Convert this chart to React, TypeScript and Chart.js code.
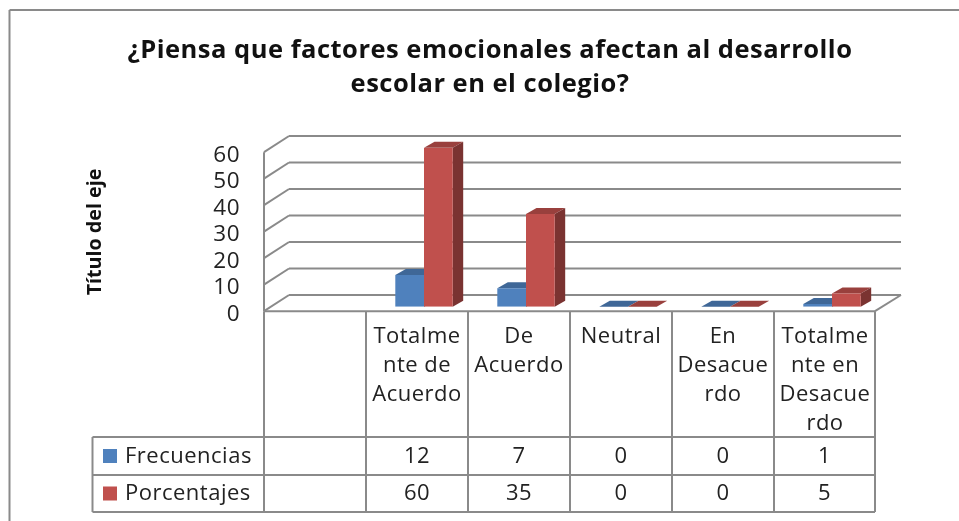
import { useEffect, useRef } from "react";
import { Chart, registerables } from "chart.js";

Chart.register(...registerables);

const categories = [
  [""],
  ["Totalme", "nte de", "Acuerdo"],
  ["De", "Acuerdo"],
  ["Neutral"],
  ["En", "Desacue", "rdo"],
  ["Totalme", "nte en", "Desacue", "rdo"],
];
const frecuencias = [null, 12, 7, 0, 0, 1];
const porcentajes = [null, 60, 35, 0, 0, 5];
const titleLines = ["¿Piensa que factores emocionales afectan al desarrollo", "escolar en el colegio?"];
const yTicks = { min: 0, max: 60, step: 10 };
const yAxisTitle = "Título del eje";
const seriesNames = ["Frecuencias", "Porcentajes"];
const seriesColors = ["#4F81BD", "#C0504D"];
const topColors = ["#3F6797", "#99403D"];
const sideColors = ["#355780", "#7A3331"];

const FONT = "'Open Sans', sans-serif";
const TEXT = "#222222";
const LINE = "#8A8A8A";

const geometry = {
  id: "geometry",
  beforeDraw(chart: any) {
    chart.ctx.letterSpacing = "0.5px";
  },
  beforeDatasetsDraw(chart: any) {
    const { ctx, chartArea, scales } = chart;
    const { left, right } = chartArea;
    const y = scales.y;
    const fx0 = left - 7;
    const fx1 = right - 8;
    const bx0 = left + 18;
    const bx1 = right + 18;
    ctx.save();
    ctx.strokeStyle = LINE;
    ctx.lineWidth = 2;
    const seg = (a: number, b: number, c: number, d: number) => {
      ctx.beginPath();
      ctx.moveTo(a, b);
      ctx.lineTo(c, d);
      ctx.stroke();
    };
    const y0 = y.getPixelForValue(0);
    // back wall gridlines and left wall diagonals
    y.ticks.forEach((t: any) => {
      const p = y.getPixelForValue(t.value);
      seg(bx0, p - 11.7, bx1, p - 11.7);
      seg(fx0, p + 4.5, bx0, p - 11.7);
    });
    // left wall front edge
    seg(fx0, y.getPixelForValue(yTicks.max) + 4.5, fx0, y0 + 4.5);
    // floor
    seg(fx1, y0 + 4.5, bx1, y0 - 11.7);

    // 3D tops and sides of the bars
    chart.data.datasets.forEach((ds: any, i: number) => {
      chart.getDatasetMeta(i).data.forEach((bar: any, j: number) => {
        if (ds.data[j] === null) return;
        const l = bar.x - bar.width / 2;
        const r = bar.x + bar.width / 2;
        const t = bar.y;
        const b = bar.base;
        const dx = 10.5;
        const dy = 6;
        ctx.fillStyle = topColors[i];
        ctx.beginPath();
        ctx.moveTo(l, t);
        ctx.lineTo(l + dx, t - dy);
        ctx.lineTo(r + dx, t - dy);
        ctx.lineTo(r, t);
        ctx.closePath();
        ctx.fill();
        if (b - t > 0.5) {
          ctx.fillStyle = sideColors[i];
          ctx.beginPath();
          ctx.moveTo(r, t);
          ctx.lineTo(r + dx, t - dy);
          ctx.lineTo(r + dx, b - dy);
          ctx.lineTo(r, b);
          ctx.closePath();
          ctx.fill();
        }
      });
    });
    ctx.restore();
  },
  afterDraw(chart: any) {
    const { ctx, chartArea, scales } = chart;
    const x = scales.x;
    const y = scales.y;
    const y0 = y.getPixelForValue(0) + 4.5;
    const cols = categories.map((_, i) => x.getPixelForValue(i) - 7 - x.width / 6 / 2);
    cols.push(chartArea.right - 8);
    const rows = [437, 475, 512];
    const tableLeft = 92.5;
    ctx.save();
    ctx.strokeStyle = LINE;
    ctx.lineWidth = 2;
    const seg = (a: number, b: number, c: number, d: number) => {
      ctx.beginPath();
      ctx.moveTo(a, b);
      ctx.lineTo(c, d);
      ctx.stroke();
    };
    // outer frame: top and left edges run off the picture
    seg(959, 10, 9.5, 10);
    seg(9.5, 10, 9.5, 521);
    // data table grid
    seg(cols[0], y0, cols[6], y0);
    cols.forEach((c: number) => seg(c, y0, c, rows[2]));
    rows.forEach((r) => seg(tableLeft, r, cols[6], r));
    seg(tableLeft, rows[0], tableLeft, rows[2]);

    // legend keys and values of the data table
    ctx.textBaseline = "middle";
    chart.data.datasets.forEach((ds: any, i: number) => {
      const mid = (rows[i] + rows[i + 1]) / 2;
      ctx.fillStyle = seriesColors[i];
      ctx.fillRect(103, mid - 7, 14, 14);
      ctx.fillStyle = TEXT;
      ctx.font = `22px ${FONT}`;
      ctx.textAlign = "left";
      ctx.fillText(seriesNames[i], 125, mid + 0.5);
      ctx.textAlign = "center";
      ds.data.forEach((v: any, j: number) => {
        if (v === null) return;
        ctx.fillText(String(v), (cols[j] + cols[j + 1]) / 2, mid + 0.5);
      });
    });

    // vertical axis title
    ctx.translate(95, 232);
    ctx.rotate(-Math.PI / 2);
    ctx.letterSpacing = "0px";
    ctx.font = `bold 19.7px ${FONT}`;
    ctx.textAlign = "center";
    ctx.fillStyle = "#111111";
    ctx.fillText(yAxisTitle, 0, 0);
    ctx.restore();
  },
};

export default function App() {
  const ref = useRef<HTMLCanvasElement>(null);
  useEffect(() => {
    const chart = new Chart(ref.current!, {
      type: "bar",
      data: {
        labels: categories,
        datasets: [
          { label: seriesNames[0], data: frecuencias, backgroundColor: seriesColors[0], categoryPercentage: 0.5627, barPercentage: 1 },
          { label: seriesNames[1], data: porcentajes, backgroundColor: seriesColors[1], categoryPercentage: 0.5627, barPercentage: 1 },
        ],
      },
      options: {
        responsive: false,
        animation: false,
        layout: { padding: { left: 97, right: 76, top: 0, bottom: 0 } },
        plugins: {
          legend: { display: false },
          tooltip: { enabled: false },
          title: {
            display: true,
            text: titleLines,
            color: "#111111",
            font: { family: FONT, size: 25.5, weight: "bold", lineHeight: 1.333 },
            padding: { top: 34, bottom: 45.7 },
          },
        },
        scales: {
          x: {
            grid: { display: false },
            border: { display: false },
            afterFit: (s: any) => { s.height = 521 - 306.7; },
            ticks: {
              autoSkip: false,
              maxRotation: 0,
              minRotation: 0,
              color: TEXT,
              padding: 8,
              labelOffset: -7,
              font: { family: FONT, size: 22, lineHeight: 1.318 },
            },
          },
          y: {
            min: yTicks.min,
            max: yTicks.max,
            grid: { display: false, drawTicks: false },
            border: { display: false },
            afterFit: (s: any) => { s.width = 174; },
            ticks: {
              autoSkip: false,
              stepSize: yTicks.step,
              color: TEXT,
              padding: 31,
              labelOffset: 7.5,
              font: { family: FONT, size: 22.5 },
            },
          },
        },
      },
      plugins: [geometry],
    } as any);
    return () => chart.destroy();
  }, []);
  return (
    <div style={{ position: "fixed", left: 0, top: 0, width: 959, height: 521, background: "#fff", overflow: "hidden" }}>
      <canvas ref={ref} width={959} height={521} style={{ display: "block", filter: "blur(0.5px)" }} />
    </div>
  );
}
